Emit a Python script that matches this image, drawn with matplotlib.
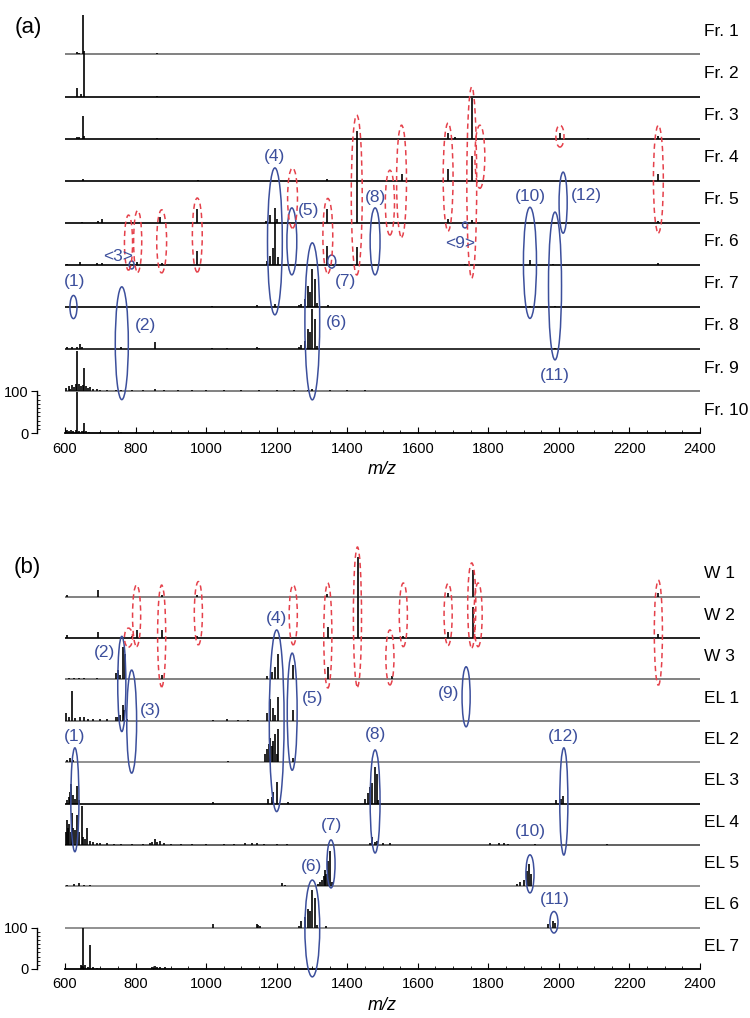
import numpy as np
import matplotlib
matplotlib.use('Agg')
import matplotlib.pyplot as plt
from matplotlib.patches import Ellipse
from matplotlib.ticker import MultipleLocator, FixedLocator

plt.rcParams['font.family'] = ['Liberation Sans', 'DejaVu Sans']

# stick spectra, (m/z, relative intensity %)
fr1 = [(605, 2), (633, 5), (640, 4), (651, 93), (655, 8), (860, 3)]
fr2 = [(634, 21), (645, 5), (655, 100), (860, 2)]
fr3 = [(633, 4), (640, 5), (651, 55), (655, 6), (860, 1), (1427, 18), (1686, 14), (1705, 3),
       (1753, 97), (2003, 14), (2083, 2), (2282, 6)]
fr4 = [(651, 4), (977, 2), (1342, 3), (1427, 99), (1554, 16), (1686, 28), (1753, 59), (2282, 16)]
fr5 = [(648, 2), (694, 4), (704, 10), (789, 3), (869, 13), (973, 33), (1170, 5), (1181, 18),
       (1195, 36), (1200, 10), (1342, 33), (1427, 100), (1686, 10), (1753, 6), (2282, 5)]
fr6 = [(605, 2), (643, 8), (690, 4), (704, 5), (803, 7), (874, 5), (973, 34), (1172, 10),
       (1181, 22), (1190, 40), (1195, 99), (1204, 20), (1343, 46), (1427, 42), (1734, 3),
       (1918, 12), (1983, 3), (2282, 4)]
fr7 = [(1016, 2), (1143, 5), (1195, 8), (1262, 4), (1270, 8), (1280, 20), (1289, 50), (1294, 35),
       (1299, 90), (1308, 66), (1315, 10), (1346, 6), (1918, 2), (1989, 2)]
fr8 = [(605, 4), (620, 5), (635, 6), (642, 12), (648, 6), (760, 5), (855, 16), (1016, 3),
       (1058, 3), (1143, 5), (1150, 3), (1262, 5), (1270, 10), (1280, 20), (1289, 48), (1294, 40),
       (1299, 95), (1308, 71), (1315, 8), (1989, 3)]
fr9 = [(603, 8), (610, 12), (615, 6), (620, 14), (625, 10), (630, 16), (635, 95), (640, 18),
       (645, 12), (650, 14), (654, 55), (660, 12), (665, 8), (672, 10), (680, 6), (690, 5),
       (700, 3), (720, 3), (745, 2), (760, 3), (790, 2), (820, 2), (855, 5), (880, 3), (920, 2),
       (960, 2), (1000, 2), (1050, 2), (1100, 2), (1150, 2), (1200, 3), (1250, 2), (1290, 4),
       (1300, 5), (1350, 2), (1400, 2), (1450, 2)]
fr10 = [(602, 6), (607, 8), (612, 5), (618, 7), (624, 6), (630, 8), (635, 99), (640, 6),
        (648, 5), (654, 24), (660, 5), (668, 3), (700, 2), (760, 2), (800, 2), (850, 2)]

w1 = [(605, 3), (694, 15), (874, 3), (973, 4), (1342, 6), (1431, 97), (1686, 10), (1756, 64),
      (2282, 8)]
w2 = [(605, 7), (694, 14), (789, 5), (803, 19), (874, 19), (973, 6), (1346, 27), (1431, 100),
      (1559, 5), (1686, 15), (1756, 75), (2282, 10)]
w3 = [(610, 3), (625, 3), (640, 4), (655, 3), (670, 2), (690, 3), (710, 2), (745, 15), (750, 22),
      (756, 10), (763, 78), (770, 62), (874, 10), (940, 2), (1000, 2), (1030, 2), (1060, 2),
      (1172, 8), (1186, 18), (1195, 30), (1204, 62), (1247, 34), (1346, 30), (1526, 8)]
el1 = [(603, 20), (610, 8), (619, 73), (628, 6), (643, 10), (654, 8), (665, 4), (680, 4),
       (700, 5), (720, 4), (745, 8), (750, 10), (757, 15), (763, 37), (767, 25), (775, 5),
       (1020, 3), (1060, 4), (1090, 3), (1120, 3), (1172, 20), (1181, 53), (1190, 30),
       (1195, 15), (1204, 57), (1247, 26)]
el2 = [(605, 5), (615, 10), (622, 4), (1063, 3), (1168, 20), (1172, 31), (1177, 45), (1181, 59),
       (1186, 40), (1190, 50), (1195, 67), (1200, 20), (1204, 80), (1247, 10)]
el3 = [(605, 8), (610, 15), (614, 27), (617, 47), (622, 20), (628, 10), (634, 43), (640, 8),
       (1020, 3), (1176, 10), (1186, 15), (1190, 27), (1200, 51), (1233, 4), (1450, 10),
       (1460, 25), (1465, 40), (1471, 50), (1479, 89), (1483, 72), (1488, 8), (1993, 8),
       (2005, 10), (2012, 19)]
el4 = [(603, 30), (605, 61), (609, 40), (612, 50), (616, 30), (619, 77), (624, 40), (629, 35),
       (634, 72), (640, 30), (647, 94), (652, 20), (657, 15), (663, 41), (670, 10), (680, 6),
       (690, 4), (700, 5), (720, 4), (740, 3), (760, 3), (790, 3), (820, 3), (840, 5), (848, 8),
       (855, 15), (862, 8), (869, 10), (880, 5), (900, 3), (930, 3), (960, 2), (1000, 3),
       (1050, 3), (1080, 3), (1110, 4), (1130, 5), (1145, 5), (1165, 3), (1200, 3), (1230, 3),
       (1465, 5), (1470, 20), (1479, 8), (1484, 10), (1500, 4), (1521, 5), (1805, 4), (1830, 4),
       (1845, 5), (1856, 3), (1932, 2), (2136, 2)]
el5 = [(605, 3), (625, 5), (640, 7), (655, 4), (670, 3), (1214, 8), (1225, 3), (1318, 5),
       (1323, 10), (1328, 15), (1333, 25), (1337, 40), (1341, 30), (1345, 62), (1351, 86),
       (1356, 10), (1880, 5), (1890, 10), (1900, 15), (1909, 38), (1915, 54), (1922, 30)]
el6 = [(1020, 8), (1143, 8), (1148, 6), (1152, 5), (1262, 5), (1270, 15), (1280, 25), (1289, 45),
       (1294, 40), (1299, 92), (1308, 72), (1315, 6), (1340, 4), (1969, 8), (1982, 16), (1989, 10)]
el7 = [(645, 10), (648, 8), (652, 100), (658, 10), (664, 6), (671, 58), (678, 4), (690, 3),
       (846, 5), (855, 8), (862, 6), (870, 6), (883, 4)]

names_a = ['Fr. 1', 'Fr. 2', 'Fr. 3', 'Fr. 4', 'Fr. 5', 'Fr. 6', 'Fr. 7', 'Fr. 8', 'Fr. 9', 'Fr. 10']
spec_a = [fr1, fr2, fr3, fr4, fr5, fr6, fr7, fr8, fr9, fr10]
names_b = ['W 1', 'W 2', 'W 3', 'EL 1', 'EL 2', 'EL 3', 'EL 4', 'EL 5', 'EL 6', 'EL 7']
spec_b = [w1, w2, w3, el1, el2, el3, el4, el5, el6, el7]

# annotations: (m/z, y, width, height) in panel coordinates
a_blue = [(624, 300, 20, 55), (761, 214, 37, 268), (789, 400, 14, 19), (1195, 456, 42, 349),
          (1243, 456, 28, 159), (1301, 266, 42, 373), (1356, 408, 23, 31), (1479, 456, 28, 159),
          (1734, 495, 14, 14), (1918, 405, 37, 264), (1989, 350, 37, 351), (2012, 548, 23, 145)]
a_lbl = [('(1)', 626, 360), ('(2)', 827, 257), ('<3>', 750, 420), ('(4)', 1195, 657),
         ('(5)', 1290, 530), ('(6)', 1370, 263), ('(7)', 1394, 360), ('(8)', 1479, 561),
         ('<9>', 1720, 452), ('(10)', 1918, 562), ('(11)', 1989, 138), ('(12)', 2079, 566)]
a_red = [(780, 453, 23, 131), (806, 456, 23, 147), (874, 456, 28, 150), (975, 471, 28, 176),
         (1245, 559, 28, 143), (1345, 469, 28, 178), (1427, 566, 31, 380), (1521, 548, 26, 154),
         (1554, 599, 28, 266), (1686, 609, 28, 257), (1753, 596, 28, 454), (1776, 657, 28, 150),
         (2003, 706, 23, 52), (2282, 604, 28, 256)]

b_blue = [(628, 409, 23, 251), (761, 689, 23, 230), (789, 598, 28, 249), (1200, 600, 42, 439),
          (1244, 622, 28, 283), (1301, 98, 42, 234), (1354, 254, 23, 116), (1479, 405, 28, 249),
          (1737, 658, 23, 145), (1918, 230, 23, 92), (1986, 113, 23, 52), (2014, 405, 23, 259)]
b_lbl = [('(1)', 628, 562), ('(2)', 713, 764), ('(3)', 841, 626), ('(4)', 1200, 848),
         ('(5)', 1303, 655), ('(6)', 1299, 247), ('(7)', 1356, 348), ('(8)', 1481, 566),
         ('(9)', 1686, 667), ('(10)', 1918, 332), ('(11)', 1989, 167), ('(12)', 2014, 562)]
b_red = [(780, 801, 23, 46), (803, 854, 23, 149), (874, 805, 23, 246), (978, 860, 23, 153),
         (1247, 856, 23, 145), (1345, 806, 23, 254), (1429, 851, 23, 338), (1521, 753, 23, 133),
         (1559, 856, 23, 154), (1686, 857, 23, 150), (1753, 879, 23, 205), (1771, 856, 23, 154),
         (2282, 813, 23, 254)]

BLUE = '#3c4f9c'
RED = '#e5414b'

fig = plt.figure(figsize=(7.5, 10.18), dpi=100)
ax_a = fig.add_axes([65/750, 1-433.3/1018, 635/750, 420.9/1018])
ax_b = fig.add_axes([65/750, 1-969/1018, 635/750, 413.7/1018])


def draw_panel(ax, names, spectra, blue, lbl, red, greys):
    n = len(names)
    for k in range(n):
        base = (n-1-k)*100
        if k < n-1:
            ax.plot([600, 2400], [base, base], color=greys[k], lw=1.3, zorder=2)
        mz = [p[0] for p in spectra[k]]
        h = [p[1] for p in spectra[k]]
        ax.vlines(mz, base, base+np.array(h), color='k', lw=1.2, zorder=2)
        ax.text(2412, base+55, names[k], ha='left', va='center', fontsize=12.5, clip_on=False)
    for (x, y, w, hh) in blue:
        ax.add_patch(Ellipse((x, y), w, hh, fill=False, ec=BLUE, lw=1.1, zorder=4, clip_on=False))
    for (t, x, y) in lbl:
        ax.text(x, y, t, color=BLUE, ha='center', va='center', fontsize=12.5, zorder=5)
    for (x, y, w, hh) in red:
        ax.add_patch(Ellipse((x, y), w, hh, fill=False, ec=RED, lw=1.1, ls=(0, (3.5, 2.5)),
                             zorder=4, clip_on=False))
    ax.set_xlim(600, 2400)
    ax.set_ylim(0, 1000)
    ax.spines['top'].set_visible(False)
    ax.spines['right'].set_visible(False)
    ax.spines['bottom'].set_linewidth(1.3)
    ax.spines['left'].set_position(('outward', 20))
    ax.spines['left'].set_bounds(0, 100)
    ax.spines['left'].set_linewidth(1.0)
    ax.set_yticks([0, 100])
    ax.yaxis.set_minor_locator(FixedLocator(np.arange(10, 100, 10)))
    ax.tick_params(axis='y', which='major', length=4, labelsize=10.5, pad=2)
    ax.tick_params(axis='y', which='minor', length=2, direction='in')
    ax.set_xticks(np.arange(600, 2401, 200))
    ax.xaxis.set_minor_locator(MultipleLocator(50))
    ax.tick_params(axis='x', which='major', direction='in', length=4, labelsize=10.5, pad=6)
    ax.tick_params(axis='x', which='minor', direction='in', length=2)
    ax.patch.set_alpha(0)
    ax.set_xlabel('m/z', fontsize=13, style='italic', labelpad=4)


draw_panel(ax_a, names_a, spec_a, a_blue, a_lbl, a_red,
           ['#777777', '#111111', '#111111', '#111111', '#111111', '#111111', '#111111', '#222222', '#777777'])
draw_panel(ax_b, names_b, spec_b, b_blue, b_lbl, b_red,
           ['#777777', '#111111', '#777777', '#777777', '#888888', '#111111', '#555555', '#888888', '#888888'])

fig.text(28/750, 1-27/1018, '(a)', ha='center', va='center', fontsize=16)
fig.text(27/750, 1-567/1018, '(b)', ha='center', va='center', fontsize=16)

fig.savefig('out.png', dpi=100)
